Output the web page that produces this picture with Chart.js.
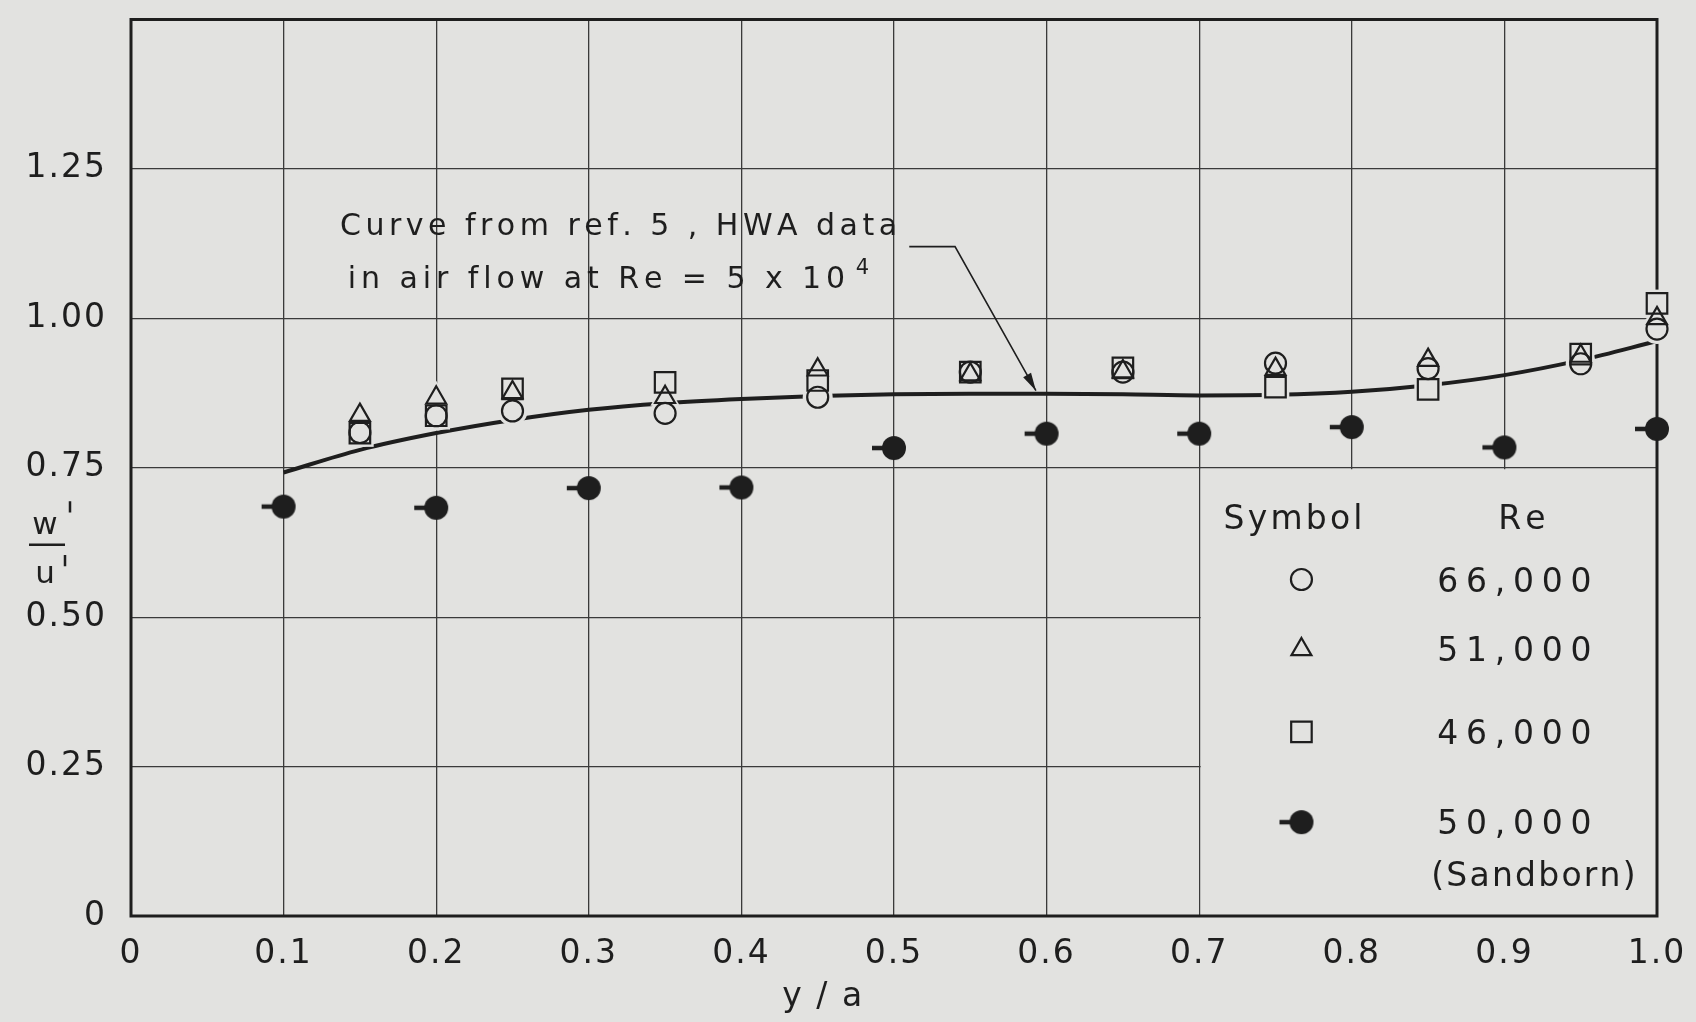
<!DOCTYPE html>
<html lang="en">
<head>
<meta charset="utf-8">
<title>w'/u' against y/a</title>
<script src="https://cdn.jsdelivr.net/npm/chart.js@4.4.1/dist/chart.umd.min.js"></script>
<style>
  html, body { margin: 0; padding: 0; background: #e2e2e0; }
  #box { width: 1696px; height: 1022px; }
</style>
</head>
<body>
<div id="box"><canvas id="grafico" width="1696" height="1022"></canvas></div>
<script>
// curve from ref. 5 (HWA data, Re = 5 x 10^4)
const curveX = [0.1, 0.15, 0.2, 0.25, 0.3, 0.35, 0.4, 0.45, 0.5, 0.55, 0.6, 0.65, 0.7, 0.75, 0.8, 0.85, 0.9, 0.95, 1.0];
const curveY = [0.742, 0.78, 0.808, 0.83, 0.847, 0.858, 0.865, 0.87, 0.873, 0.874, 0.874, 0.873, 0.871, 0.872, 0.877, 0.888, 0.905, 0.93, 0.962];

// open symbols
const openX = [0.15, 0.2, 0.25, 0.35, 0.45, 0.55, 0.65, 0.75, 0.85, 0.95, 1.0];
const re66000 = [0.809, 0.837, 0.845, 0.841, 0.868, 0.91, 0.91, 0.925, 0.916, 0.924, 0.982];
const re51000 = [0.838, 0.867, 0.876, 0.868, 0.914, 0.906, 0.911, 0.915, 0.93, 0.937, 1.0];
const re46000 = [0.808, 0.837, 0.882, 0.893, 0.896, 0.91, 0.917, 0.885, 0.881, 0.94, 1.025];

// Sandborn, Re = 50,000
const sandbornX = [0.1, 0.2, 0.3, 0.4, 0.5, 0.6, 0.7, 0.8, 0.9, 1.0];
const sandborn = [0.685, 0.683, 0.716, 0.717, 0.783, 0.807, 0.807, 0.818, 0.784, 0.815];

const xTicks = [0, 0.1, 0.2, 0.3, 0.4, 0.5, 0.6, 0.7, 0.8, 0.9, 1.0];
const xTickLabels = ['0', '0.1', '0.2', '0.3', '0.4', '0.5', '0.6', '0.7', '0.8', '0.9', '1.0'];
const yTicks = [0, 0.25, 0.5, 0.75, 1.0, 1.25, 1.5];
const yTickLabels = ['0', '0.25', '0.50', '0.75', '1.00', '1.25', ''];

const legendStyles = ['circle', 'triangle', 'rect', 'sandborn'];
const legendRe = ['66,000', '51,000', '46,000', '50,000'];

const PAPER = '#e2e2e0';
const INK = '#1e1e1e';
const GRID = '#3a3a3a';
const FAMILY = "'DejaVu Sans', sans-serif";

// filled dot with the little flag on its left
function makeSandbornMark(r, tick, lw) {
    const c = document.createElement('canvas');
    const half = r + tick + 1;
    c.width = half * 2;
    c.height = (r + 2) * 2;
    const g = c.getContext('2d');
    g.fillStyle = INK;
    g.strokeStyle = INK;
    g.lineWidth = lw;
    g.beginPath();
    g.moveTo(1, r + 2);
    g.lineTo(half, r + 2);
    g.stroke();
    g.beginPath();
    g.arc(half, r + 2, r, 0, Math.PI * 2);
    g.fill();
    return c;
}
const sandbornMark = makeSandbornMark(12, 10, 4.5);

const pts = (xs, ys) => xs.map((x, i) => ({ x: x, y: ys[i] }));

const hollow = (label, ys, style, r) => ({
    label: label,
    data: pts(openX, ys),
    pointStyle: style,
    pointRadius: r,
    pointHoverRadius: r,
    pointBorderColor: INK,
    pointBackgroundColor: 'rgba(0,0,0,0)',
    pointBorderWidth: 2.2,
    clip: false,
    order: 1
});

// paper coloured discs under the open symbols, they break the curve and grid like the drawing does
const mask = (ys, style, r) => ({
    label: 'mask',
    data: pts(openX, ys),
    pointStyle: style,
    pointRadius: r,
    pointHoverRadius: r,
    pointBorderWidth: 0,
    pointBackgroundColor: PAPER,
    pointBorderColor: PAPER,
    clip: false,
    order: 3
});

// spreads the characters to fill a given width (hand lettering is wide)
function fitText(c, text, x, y, width) {
    const chars = [...text];
    const widths = chars.map(ch => c.measureText(ch).width);
    const total = widths.reduce((a, b) => a + b, 0);
    const gap = chars.length > 1 ? (width - total) / (chars.length - 1) : 0;
    c.textAlign = 'left';
    let cx = x;
    chars.forEach((ch, i) => {
        c.fillText(ch, cx, y);
        cx += widths[i] + gap;
    });
}

function drawMark(c, style, x, y, r) {
    if (style === 'sandborn') {
        c.drawImage(sandbornMark, x - sandbornMark.width / 2, y - sandbornMark.height / 2);
        return;
    }
    c.beginPath();
    if (style === 'circle') {
        c.arc(x, y, r, 0, Math.PI * 2);
    } else if (style === 'triangle') {
        for (let k = 0; k < 3; k++) {
            const a = k * 2 * Math.PI / 3;
            const px = x + Math.sin(a) * r, py = y - Math.cos(a) * r;
            if (k === 0) c.moveTo(px, py); else c.lineTo(px, py);
        }
        c.closePath();
    } else {
        const s = r * Math.SQRT1_2;
        c.rect(x - s, y - s, 2 * s, 2 * s);
    }
    c.stroke();
}

const paperPlugin = {
    id: 'paper',
    beforeDraw(chart) {
        const c = chart.ctx;
        c.save();
        c.fillStyle = PAPER;
        c.fillRect(0, 0, chart.width, chart.height);
        c.restore();
        c.letterSpacing = '2px';
    },
    beforeDatasetsDraw(chart) {
        const c = chart.ctx, a = chart.chartArea;
        const xs = chart.scales.x, ys = chart.scales.y;
        c.save();
        // legend panel: no grid inside
        const lx = xs.getPixelForValue(0.7), ly = ys.getPixelForValue(0.75);
        c.fillStyle = PAPER;
        c.fillRect(lx + 1.5, ly + 1.5, a.right - lx - 1.5, a.bottom - ly - 1.5);
        // heavy frame
        c.strokeStyle = INK;
        c.lineWidth = 3;
        c.strokeRect(a.left, a.top, a.right - a.left, a.bottom - a.top);
        c.restore();
    },
    afterDatasetsDraw(chart) {
        const c = chart.ctx, a = chart.chartArea;
        const xs = chart.scales.x, ys = chart.scales.y;
        const X = v => xs.getPixelForValue(v), Y = v => ys.getPixelForValue(v);
        c.save();
        c.letterSpacing = '0px';
        c.fillStyle = INK;
        c.strokeStyle = INK;
        c.textBaseline = 'alphabetic';

        // note and arrow
        c.font = '30px ' + FAMILY;
        fitText(c, 'Curve from ref. 5 , HWA data', X(0.137), Y(1.139), X(0.502) - X(0.137));
        fitText(c, 'in air flow at Re = 5 x 10', X(0.142), Y(1.05), X(0.468) - X(0.142));
        c.font = '21px ' + FAMILY;
        c.textAlign = 'left';
        c.fillText('4', X(0.475), Y(1.1) + 15);

        const p0 = [X(0.51), Y(1.12)], p1 = [X(0.54), Y(1.12)], p2 = [X(0.593), Y(0.879)];
        c.lineWidth = 1.6;
        c.beginPath();
        c.moveTo(p0[0], p0[1]);
        c.lineTo(p1[0], p1[1]);
        c.lineTo(p2[0], p2[1]);
        c.stroke();
        const ang = Math.atan2(p2[1] - p1[1], p2[0] - p1[0]);
        const L = 18, W = 4.5;
        c.beginPath();
        c.moveTo(p2[0], p2[1]);
        c.lineTo(p2[0] - L * Math.cos(ang) + W * Math.sin(ang), p2[1] - L * Math.sin(ang) - W * Math.cos(ang));
        c.lineTo(p2[0] - L * Math.cos(ang) - W * Math.sin(ang), p2[1] - L * Math.sin(ang) + W * Math.cos(ang));
        c.closePath();
        c.fill();

        // legend table
        c.font = '33px ' + FAMILY;
        fitText(c, 'Symbol', X(0.716), Y(0.648), X(0.807) - X(0.716));
        fitText(c, 'Re', X(0.896), Y(0.648), X(0.927) - X(0.896));
        const rowY = [0.563, 0.446, 0.308, 0.157];
        const symR = { circle: 10.5, triangle: 11.5, rect: 14.5, sandborn: 12 };
        c.lineWidth = 2.2;
        c.font = '33px ' + FAMILY;
        legendStyles.forEach((s, i) => {
            drawMark(c, s, X(0.767), Y(rowY[i]), symR[s]);
            fitText(c, legendRe[i], X(0.856), Y(rowY[i]) + 12, X(0.957) - X(0.856));
        });
        fitText(c, '(Sandborn)', X(0.852), Y(0.071) + 12, X(0.986) - X(0.852));

        // x title
        c.font = '33px ' + FAMILY;
        fitText(c, 'y / a', X(0.453) - 40, a.bottom + 90, 80);

        // y title, w'/u' as a fraction
        const fx = a.left - 86;
        c.font = '31px ' + FAMILY;
        c.textAlign = 'center';
        c.fillText('w', fx, Y(0.652) + 8);
        c.fillText('u', fx, Y(0.57) + 8);
        c.lineWidth = 2.5;
        c.beginPath();
        c.moveTo(fx - 16, Y(0.621));
        c.lineTo(fx + 20, Y(0.621));
        c.moveTo(fx + 25, Y(0.694));
        c.lineTo(fx + 25, Y(0.675));
        c.moveTo(fx + 20, Y(0.604));
        c.lineTo(fx + 20, Y(0.585));
        c.stroke();
        c.restore();
    }
};

const tickFont = { family: FAMILY, size: 33 };

new Chart(document.getElementById('grafico').getContext('2d'), {
    type: 'scatter',
    data: {
        datasets: [
            hollow('66,000', re66000, 'circle', 10.5),
            hollow('51,000', re51000, 'triangle', 11.5),
            hollow('46,000', re46000, 'rect', 14.5),
            {
                label: '50,000 (Sandborn)',
                data: pts(sandbornX, sandborn),
                pointStyle: sandbornMark,
                pointRadius: 12,
                pointHoverRadius: 12,
                clip: false,
                order: 1
            },
            mask(re66000, 'circle', 15),
            mask(re51000, 'triangle', 17),
            mask(re46000, 'rect', 19.5),
            {
                label: 'ref. 5',
                data: pts(curveX, curveY),
                showLine: true,
                borderColor: INK,
                borderWidth: 4,
                pointRadius: 0,
                pointHoverRadius: 0,
                tension: 0.4,
                cubicInterpolationMode: 'monotone',
                clip: false,
                order: 4
            }
        ]
    },
    options: {
        responsive: false,
        animation: false,
        events: [],
        layout: { padding: { top: 10, right: 39, bottom: 0, left: 0 } },
        plugins: {
            legend: { display: false },
            tooltip: { enabled: false }
        },
        scales: {
            x: {
                type: 'linear',
                min: 0,
                max: 1,
                afterBuildTicks: s => { s.ticks = xTicks.map(v => ({ value: v })); },
                afterFit: s => { s.height = 106; s.paddingLeft = 0; s.paddingRight = 0; },
                grid: { color: GRID, lineWidth: 1.3, drawTicks: false },
                border: { display: false },
                ticks: {
                    color: INK,
                    font: tickFont,
                    padding: 19,
                    autoSkip: false,
                    maxRotation: 0,
                    callback: (v, i) => xTickLabels[i]
                }
            },
            y: {
                type: 'linear',
                min: 0,
                max: 1.5,
                afterBuildTicks: s => { s.ticks = yTicks.map(v => ({ value: v })); },
                afterFit: s => { s.width = 131; s.paddingTop = 0; s.paddingBottom = 0; },
                grid: { color: GRID, lineWidth: 1.3, drawTicks: false },
                border: { display: false },
                ticks: {
                    color: INK,
                    font: tickFont,
                    padding: 24,
                    autoSkip: false,
                    callback: (v, i) => yTickLabels[i]
                }
            }
        }
    },
    plugins: [paperPlugin]
});
</script>
</body>
</html>
